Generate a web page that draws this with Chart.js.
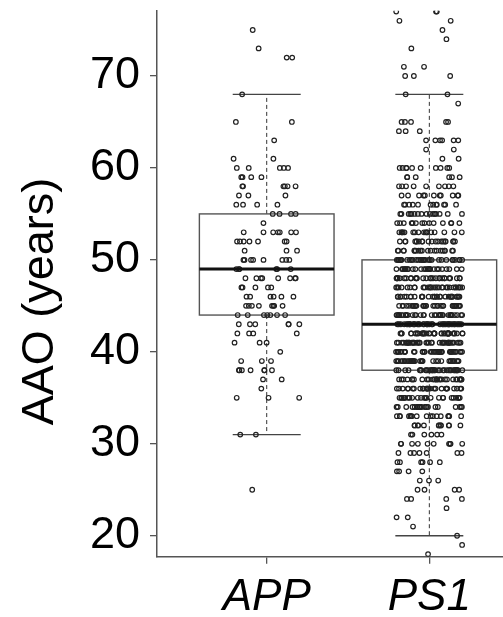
<!DOCTYPE html>
<html>
<head>
<meta charset="utf-8">
<script src="https://cdn.jsdelivr.net/npm/chart.js@4.4.1/dist/chart.umd.min.js"></script>
<style>
  html, body { margin: 0; padding: 0; background: #fff; }
  #wrap { width: 503px; height: 617px; }
</style>
</head>
<body>
<div id="wrap"><canvas id="c" width="503" height="617"></canvas></div>
<script>
// ---- data ----
const categories = ['APP', 'PS1'];
const yTitle = 'AAO (years)';
const tickValues = [20, 30, 40, 50, 60, 70];

// age levels (years) and number of dots seen at each age
const ageLevels = [77,76,75,74,73,72,71,70,69,68,
                   67,66,65,64,63,62,61,60,59,58,
                   57,56,55,54,53,52,51,50,49,48,
                   47,46,45,44,43,42,41,40,39,38,
                   37,36,35,34,33,32,31,30,29,28,
                   27,26,25,24,23,22,21,20,19,18];
const appCounts = [0,0,1,0,1,2,0,0,0,1,
                   0,0,2,0,1,0,2,5,4,6,
                   3,4,4,1,7,7,3,8,6,8,
                   5,6,8,7,6,4,3,1,3,7,
                   2,1,3,0,0,0,2,0,0,0,
                   0,0,1,0,0,0,0,0,0,0];
const ps1Counts = [3,2,1,1,1,0,2,3,0,2,
                   1,0,5,3,6,2,2,10,6,9,
                   11,12,16,14,17,20,20,30,26,28,
                   30,30,33,36,40,40,38,40,33,33,
                   28,25,24,20,17,12,6,10,7,6,
                   4,3,4,4,1,2,1,1,1,1];

// box statistics
const q1Values = [44, 38];
const medianValues = [49, 43];
const q3Values = [55, 50];
const whiskerLow = [31, 20];
const whiskerHigh = [68, 68];

// ---- presentation ----
const FONT = 'Liberation Sans, Arial, Helvetica, sans-serif';
const BOX_HALF = 0.414;   // in category units
const CAP_HALF = 0.209;
const JITTER_HALF = 0.205;

function expand(counts) {
  const out = [];
  counts.forEach((c, k) => { for (let j = 0; j < c; j++) out.push(ageLevels[k]); });
  return out;
}
function spread(i) { // deterministic, irregular spread in [-1,1] (quadratic Weyl sequence)
  const f = (i * i * 0.70710678 + i * 0.38196601 + 0.29) % 1;
  return f * 2 - 1;
}
const groups = [expand(appCounts), expand(ps1Counts)];
const datasets = groups.map((ages, g) => ({
  label: categories[g],
  data: ages.map((v, i) => ({ x: g + 1 + spread(i + g * 7) * JITTER_HALF, y: v })),
  pointRadius: 2.3,
  pointBorderWidth: 1.2,
  pointBorderColor: '#222',
  pointBackgroundColor: 'rgba(0,0,0,0)',
  showLine: false
}));

const boxPlugin = {
  id: 'boxes',
  beforeDatasetsDraw(chart) {
    const ctx = chart.ctx, xs = chart.scales.x, ys = chart.scales.y;
    ctx.save();
    categories.forEach((c, i) => {
      const cx = xs.getPixelForValue(i + 1);
      const bl = xs.getPixelForValue(i + 1 - BOX_HALF), br = xs.getPixelForValue(i + 1 + BOX_HALF);
      const cl = xs.getPixelForValue(i + 1 - CAP_HALF), cr = xs.getPixelForValue(i + 1 + CAP_HALF);
      const yq1 = ys.getPixelForValue(q1Values[i]), yq3 = ys.getPixelForValue(q3Values[i]);
      const ylo = ys.getPixelForValue(whiskerLow[i]), yhi = ys.getPixelForValue(whiskerHigh[i]);
      ctx.strokeStyle = '#333';
      ctx.lineWidth = 1;
      ctx.setLineDash([4, 3]);
      ctx.beginPath();
      ctx.moveTo(cx, yq3); ctx.lineTo(cx, yhi);
      ctx.moveTo(cx, yq1); ctx.lineTo(cx, ylo);
      ctx.stroke();
      ctx.setLineDash([]);
      ctx.strokeStyle = '#444';
      ctx.lineWidth = 1.4;
      ctx.beginPath();
      ctx.moveTo(cl, yhi); ctx.lineTo(cr, yhi);
      ctx.moveTo(cl, ylo); ctx.lineTo(cr, ylo);
      ctx.stroke();
      ctx.strokeStyle = '#555';
      ctx.lineWidth = 1.4;
      ctx.strokeRect(bl, yq3, br - bl, yq1 - yq3);
    });
    ctx.restore();
  },
  afterDatasetsDraw(chart) {
    const ctx = chart.ctx, xs = chart.scales.x, ys = chart.scales.y;
    ctx.save();
    categories.forEach((c, i) => {
      const bl = xs.getPixelForValue(i + 1 - BOX_HALF), br = xs.getPixelForValue(i + 1 + BOX_HALF);
      const ym = ys.getPixelForValue(medianValues[i]);
      ctx.strokeStyle = '#111';
      ctx.lineWidth = 3;
      ctx.beginPath();
      ctx.moveTo(bl, ym); ctx.lineTo(br, ym);
      ctx.stroke();
    });
    ctx.restore();
  }
};

const yTitlePlugin = {
  id: 'ytitle',
  afterDraw(chart) {
    const ctx = chart.ctx;
    ctx.save();
    ctx.translate(53, 301.5);
    ctx.rotate(-Math.PI / 2);
    ctx.font = '45px ' + FONT;
    ctx.fillStyle = '#000';
    ctx.textAlign = 'center';
    ctx.textBaseline = 'alphabetic';
    ctx.fillText(yTitle, 0, 0);
    ctx.restore();
  }
};

function noPad(s) { s.paddingTop = 0; s.paddingBottom = 0; s.paddingLeft = 0; s.paddingRight = 0; }

new Chart(document.getElementById('c'), {
  type: 'scatter',
  data: { datasets },
  plugins: [boxPlugin, yTitlePlugin],
  options: {
    responsive: false,
    animation: false,
    devicePixelRatio: 1,
    layout: { autoPadding: false, padding: { top: 10.7, left: 0, right: 0, bottom: 0 } },
    plugins: { legend: { display: false }, tooltip: { enabled: false } },
    scales: {
      x: {
        type: 'linear',
        min: 0.3254,
        max: 2.453,
        afterBuildTicks: (s) => { s.ticks = categories.map((c, i) => ({ value: i + 1 })); },
        afterFit: (s) => { s.height = 60.3; noPad(s); },
        ticks: {
          autoSkip: false,
          maxRotation: 0,
          padding: 8,
          color: '#000',
          font: { family: FONT, size: 44, style: 'italic' },
          callback: (v) => categories[Math.round(v) - 1]
        },
        grid: { display: true, drawOnChartArea: false, drawTicks: true, tickLength: 7, color: '#555', lineWidth: 1.3 },
        border: { display: true, color: '#555', width: 1.5 }
      },
      y: {
        type: 'linear',
        min: 17.72,
        max: 77.1,
        afterBuildTicks: (s) => { s.ticks = tickValues.map(v => ({ value: v })); },
        afterFit: (s) => { s.width = 157; noPad(s); },
        ticks: {
          autoSkip: false,
          padding: 10,
          color: '#000',
          font: { family: FONT, size: 45 }
        },
        grid: { display: true, drawOnChartArea: false, drawTicks: true, tickLength: 7, color: '#555', lineWidth: 1.3 },
        border: { display: true, color: '#555', width: 1.5 }
      }
    }
  }
});
</script>
</body>
</html>
